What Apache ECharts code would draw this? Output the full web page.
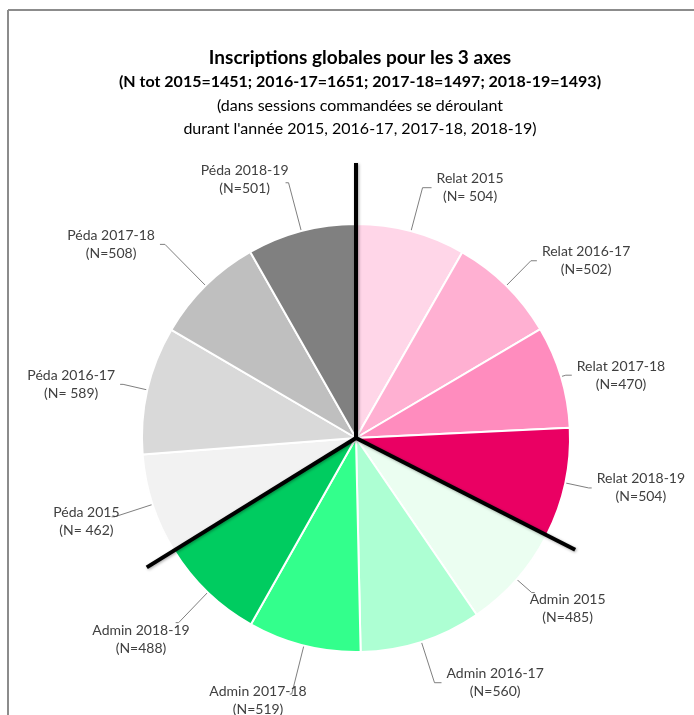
<!DOCTYPE html>
<html>
<head>
<meta charset="utf-8">
<title>Inscriptions globales pour les 3 axes</title>
<script src="https://cdn.jsdelivr.net/npm/echarts@6/dist/echarts.min.js"></script>
<style>
html, body { margin: 0; padding: 0; background: #fff; }
#chart { width: 694px; height: 715px; }
</style>
</head>
<body>
<div id="chart"></div>
<script>
// data
var names = ['Relat 2015', 'Relat 2016-17', 'Relat 2017-18', 'Relat 2018-19',
             'Admin 2015', 'Admin 2016-17', 'Admin 2017-18', 'Admin 2018-19',
             'Péda 2015', 'Péda 2016-17', 'Péda 2017-18', 'Péda 2018-19'];
var values = [504, 502, 470, 504, 485, 560, 519, 488, 462, 589, 508, 501];
var spaced = [1, 0, 0, 0, 0, 0, 0, 0, 1, 1, 0, 0]; // "(N= 504)" vs "(N=502)"
var groupSizes = [4, 4, 4];

var colors = ['#ffd6e8', '#ffb0d2', '#ff8cbe', '#ea0063',
              '#ebfef1', '#adffd3', '#33ff8c', '#00cc60',
              '#f2f2f2', '#d9d9d9', '#bfbfbf', '#808080'];
// leader line lengths and small label nudges (style)
var leadLen = [45, 35, 5, 24, 20, 43, 50, 42, 40, 25, 58, 50];
var leadLen2 = [9, 6, 6, 3, 3, 7, 2, 3, 3, 3, 5, 3];
var nudgeX = [0, 0, 0, 0, -10, 0, 22, 19, 13, 0, 0, 8];
var nudgeY = [0, 0, 0, 0, 16, 0, 6, 17, 5, 0, 0, -3];

var cx = 356, cy = 438, R = 214;
var dividerLen = [275, 246, 246];

var chart = echarts.init(document.getElementById('chart'));

var pieData = [];
for (var i = 0; i < values.length; i++) {
    pieData.push({
        name: names[i],
        value: values[i],
        itemStyle: { color: colors[i] },
        labelLine: { length: leadLen[i], length2: leadLen2[i] }
    });
}

// thick black lines between the 3 axes, angles from the data
var total = 0;
for (var i = 0; i < values.length; i++) total += values[i];
var graphics = [
    { type: 'line', shape: { x1: 8, y1: 10, x2: 694, y2: 10 }, style: { stroke: '#8c8c8c', lineWidth: 2 } },
    { type: 'line', shape: { x1: 8, y1: 10, x2: 8, y2: 715 }, style: { stroke: '#8c8c8c', lineWidth: 2 } }
];
var cum = 0, idx = 0;
for (var g = 0; g < groupSizes.length; g++) {
    var a = cum / total * Math.PI * 2;
    graphics.push({
        type: 'line',
        z: 100,
        shape: { x1: cx, y1: cy, x2: cx + dividerLen[g] * Math.sin(a), y2: cy - dividerLen[g] * Math.cos(a) },
        style: {
            stroke: '#000', lineWidth: 4, lineCap: 'butt',
            shadowBlur: 3, shadowColor: 'rgba(0,0,0,0.35)', shadowOffsetX: 1, shadowOffsetY: 1
        }
    });
    for (var k = 0; k < groupSizes[g]; k++) { cum += values[idx]; idx++; }
}

chart.setOption({
    backgroundColor: '#fff',
    animation: false,
    title: [
        {
            text: 'Inscriptions globales pour les 3 axes',
            left: 355, top: 43, textAlign: 'center',
            textStyle: { fontFamily: 'Lato', fontWeight: 'bold', fontSize: 19, color: '#000' }
        },
        {
            text: '(N tot 2015=1451; 2016-17=1651; 2017-18=1497; 2018-19=1493)',
            left: 355, top: 69, textAlign: 'center',
            textStyle: { fontFamily: 'Lato', fontWeight: 'bold', fontSize: 16, color: '#000' }
        },
        {
            text: '{c|(dans sessions commandées se déroulant}\n{c|durant l\'année 2015, 2016-17, 2017-18, 2018-19)}',
            left: 355, top: 89, textAlign: 'center',
            textStyle: {
                fontFamily: 'Lato', fontWeight: 'normal', fontSize: 16, lineHeight: 23, color: '#000',
                rich: { c: { align: 'center', fontFamily: 'Lato', fontWeight: 'normal', fontSize: 16, lineHeight: 23, color: '#000' } }
            }
        }
    ],
    graphic: graphics,
    series: [
        {
            type: 'pie',
            center: [cx, cy],
            radius: R,
            startAngle: 90,
            clockwise: true,
            avoidLabelOverlap: false,
            itemStyle: { borderColor: '#fff', borderWidth: 2 },
            label: {
                show: true,
                position: 'outside',
                fontFamily: 'Lato',
                fontSize: 14,
                lineHeight: 18,
                color: '#404040',
                formatter: function (p) {
                    return '{a|' + p.name + '}\n{a|(N=' + (spaced[p.dataIndex] ? ' ' : '') + p.value + ')}';
                },
                rich: {
                    a: { align: 'center', fontFamily: 'Lato', fontSize: 14, lineHeight: 18, color: '#404040' }
                }
            },
            labelLayout: function (p) {
                if (!nudgeX[p.dataIndex] && !nudgeY[p.dataIndex]) return {};
                return { dx: nudgeX[p.dataIndex], dy: nudgeY[p.dataIndex] };
            },
            labelLine: { show: true, lineStyle: { color: '#7f7f7f', width: 1 } },
            emphasis: { disabled: true },
            data: pieData
        }
    ]
});
</script>
</body>
</html>
